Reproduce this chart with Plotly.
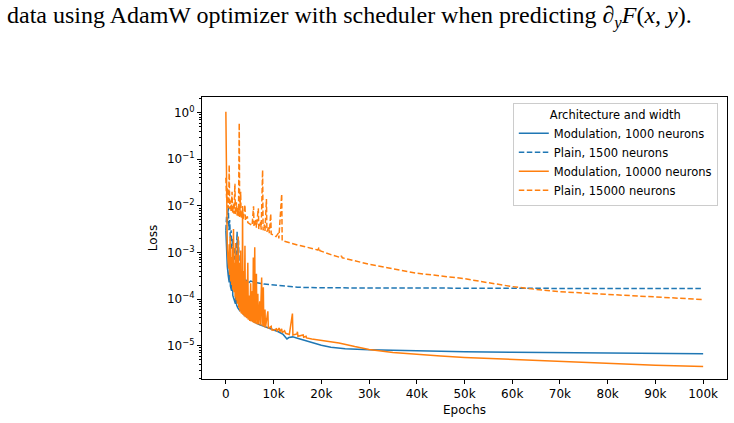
import plotly.graph_objects as go

# ---------------- data ----------------
mod1000_epochs = [0, 150, 300, 500, 700, 850, 950, 1200, 1350, 1450, 1700, 2000, 2150, 2250, 2500, 3000, 3400, 3500,
                  4000, 5000, 6000, 7000, 8000, 9000, 10000, 11000, 12000, 12800, 13200, 14000, 15000, 16000, 18000,
                  20000, 22000, 25000, 30000, 40000, 50000, 60000, 70000, 80000, 90000, 100000]
mod1000_loss = [3e-3, 9e-4, 5e-4, 3.2e-4, 2.3e-4, 8e-4, 1.9e-4, 1.5e-4, 5e-4, 1.2e-4, 1e-4, 8e-5, 2.5e-4, 7.5e-5, 6.5e-5,
                5.5e-5, 1.0e-4, 5e-5, 4.4e-5, 3.7e-5, 3.2e-5, 2.85e-5, 2.6e-5, 2.4e-5, 2.2e-5, 2.0e-5, 1.75e-5, 1.4e-5,
                1.5e-5, 1.55e-5, 1.45e-5, 1.35e-5, 1.17e-5, 1.03e-5, 9.3e-6, 8.6e-6, 8.2e-6, 7.7e-6, 7.45e-6, 7.25e-6,
                7.1e-6, 6.95e-6, 6.8e-6, 6.7e-6]

plain1500_epochs = [0, 150, 300, 500, 650, 800, 950, 1100, 1250, 1400, 1550, 1700, 1850, 2000, 2150, 2350, 2500, 2650,
                    2800, 3000, 3300, 3700, 4200, 4700, 4900, 5200, 6000, 8000, 10000, 12000, 15000, 20000, 30000,
                    50000, 70000, 100000]
plain1500_loss = [3e-3, 6e-3, 4e-3, 1e-2, 3e-3, 5e-3, 1.8e-3, 3e-3, 1.2e-3, 2e-3, 9e-4, 1.3e-3, 7e-4, 9e-4, 6e-4,
                  2.8e-3, 5.5e-4, 1.8e-3, 4.5e-4, 3.6e-4, 3e-4, 2.7e-4, 2.5e-4, 2.6e-4, 2.3e-4, 2.45e-4, 2.3e-4,
                  2.1e-4, 2.0e-4, 1.9e-4, 1.8e-4, 1.75e-4, 1.73e-4, 1.71e-4, 1.7e-4, 1.69e-4]

mod10000_epochs = [0, 60, 120, 200, 300, 400, 500, 600, 700, 780, 900, 1000, 1150, 1250, 1350, 1450, 1600, 1700, 1850,
                   1950, 2050, 2150, 2300, 2400, 2600, 2700, 2850, 2950, 3100, 3200, 3350, 3420, 3500, 3580, 3750,
                   3850, 4000, 4100, 4300, 4400, 4600, 4700, 4900, 5000, 5200, 5300, 5550, 5650, 5750, 5850, 6000,
                   6050, 6150, 6400, 6500, 6700, 6800, 7100, 7200, 7500, 7600, 7850, 7950, 8200, 8300, 8800, 8900,
                   9500, 9600, 10000, 10600, 10700, 11200, 11300, 11700, 11800, 12300, 12500, 13300, 13950, 14050,
                   14900, 15000, 15100, 16200, 16300, 16800, 16900, 18000, 20000, 23700, 27000, 30000, 35000, 40000,
                   45000, 50000, 60000, 70000, 80000, 90000, 100000]
mod10000_loss = [1.05, 0.15, 1.5e-2, 3e-3, 1.2e-3, 8e-4, 6e-4, 4.5e-4, 1.5e-3, 3.3e-4, 2.2e-3, 2.4e-4, 8e-4, 2e-4,
                 1.3e-3, 1.6e-4, 3.2e-3, 1.4e-4, 6e-4, 1.1e-4, 1.6e-3, 9.5e-5, 9e-4, 8e-5, 2.2e-3, 6.5e-5, 6e-4,
                 5.5e-5, 1.1e-3, 5e-5, 3e-4, 4.8e-5, 1.0e-2, 4.6e-5, 4e-4, 4.3e-5, 1.4e-3, 4.1e-5, 2.5e-4, 3.9e-5,
                 6e-4, 3.6e-5, 1.2e-4, 3.4e-5, 2.2e-4, 3.3e-5, 1.5e-4, 3.2e-5, 7.8e-4, 3.1e-5, 2.2e-4, 1.3e-3, 3e-5,
                 3.5e-4, 2.9e-5, 1.3e-4, 2.85e-5, 9e-5, 2.75e-5, 2.9e-4, 2.65e-5, 1.8e-4, 2.55e-5, 6e-5, 2.45e-5,
                 5.5e-5, 2.35e-5, 2.6e-5, 2.2e-5, 2.15e-5, 2.3e-5, 2.05e-5, 2.4e-5, 2e-5, 2.3e-5, 1.9e-5, 2.1e-5,
                 1.85e-5, 1.75e-5, 4.9e-5, 1.7e-5, 1.8e-5, 2e-5, 1.6e-5, 1.7e-5, 1.52e-5, 1.6e-5, 1.47e-5, 1.4e-5,
                 1.3e-5, 1.15e-5, 9.6e-6, 8.3e-6, 7.2e-6, 6.5e-6, 6.0e-6, 5.6e-6, 5.1e-6, 4.6e-6, 4.2e-6, 3.8e-6,
                 3.6e-6]

plain15000_epochs = [0, 150, 300, 450, 600, 700, 800, 1000, 1100, 1300, 1400, 1600, 1700, 1900, 2000, 2200, 2350,
                     2550, 2650, 2800, 2900, 3100, 3200, 3500, 3600, 4000, 4100, 4500, 4600, 5000, 5500, 5800, 5900,
                     6300, 6400, 6800, 6900, 7300, 7400, 7700, 7800, 8100, 8200, 8500, 8600, 9000, 9100, 9400, 9500,
                     10500, 11000, 11100, 11700, 11800, 13000, 15000, 17000, 19300, 19500, 19700, 22000, 24000,
                     24200, 24400, 30000, 35000, 40000, 45000, 50000, 55000, 60000, 65000, 70000, 75000, 80000,
                     85000, 90000, 95000, 100000]
plain15000_loss = [4e-2, 1.5e-2, 2.5e-2, 9e-3, 1.2e-2, 7.6e-2, 8.5e-3, 1.3e-2, 7.5e-3, 2e-2, 7e-3, 1.1e-2, 6.8e-3,
                   3e-2, 6.5e-3, 1.2e-2, 6.2e-3, 9e-3, 6e-3, 0.6, 5.8e-3, 2e-2, 5.5e-3, 8e-3, 5.2e-3, 1.05e-2, 4.8e-3,
                   6e-3, 4.4e-3, 4.1e-3, 3.8e-3, 9.8e-3, 3.6e-3, 5e-3, 3.4e-3, 8.9e-3, 3.2e-3, 4.5e-3, 3.1e-3,
                   5.9e-2, 3e-3, 4e-3, 2.9e-3, 1.4e-2, 2.8e-3, 3.5e-3, 2.6e-3, 6.8e-3, 2.5e-3, 2.2e-3, 2.6e-3, 2.0e-3,
                   1.8e-2, 1.8e-3, 1.65e-3, 1.45e-3, 1.3e-3, 1.13e-3, 1.3e-3, 1.1e-3, 9e-4, 7.8e-4, 8.5e-4, 7.7e-4,
                   5.6e-4, 4.5e-4, 3.6e-4, 3.15e-4, 2.75e-4, 2.25e-4, 1.86e-4, 1.62e-4, 1.45e-4, 1.35e-4, 1.26e-4,
                   1.17e-4, 1.1e-4, 1.02e-4, 9.8e-5]

x_tick_vals = [0, 10000, 20000, 30000, 40000, 50000, 60000, 70000, 80000, 90000, 100000]
x_tick_text = ["0", "10k", "20k", "30k", "40k", "50k", "60k", "70k", "80k", "90k", "100k"]
y_tick_vals = [1, 1e-1, 1e-2, 1e-3, 1e-4, 1e-5]
y_tick_text = ["10<sup>0</sup>", "10<sup>\u22121</sup>", "10<sup>\u22122</sup>", "10<sup>\u22123</sup>",
               "10<sup>\u22124</sup>", "10<sup>\u22125</sup>"]

BLUE = "#1f77b4"
ORANGE = "#ff7f0e"
FONT = "DejaVu Sans"
FS = 12
LFS = 11.5

fig = go.Figure()
series = [
    ("Modulation, 1000 neurons", mod1000_epochs, mod1000_loss, BLUE, "solid"),
    ("Plain, 1500 neurons", plain1500_epochs, plain1500_loss, BLUE, "5.5px,2.5px"),
    ("Modulation, 10000 neurons", mod10000_epochs, mod10000_loss, ORANGE, "solid"),
    ("Plain, 15000 neurons", plain15000_epochs, plain15000_loss, ORANGE, "5.5px,2.5px"),
]
for name, xs, ys, col, dash in series:
    fig.add_trace(go.Scatter(x=xs, y=ys, mode="lines", name=name,
                             line=dict(color=col, width=1.5, dash=dash)))

fig.update_layout(
    width=734, height=423,
    margin=dict(l=202, r=7, t=97, b=44),
    paper_bgcolor="white", plot_bgcolor="white",
    font=dict(family=FONT, size=FS, color="black"),
    showlegend=True,
    legend=dict(
        x=0.592, y=0.979, xanchor="left", yanchor="top",
        bgcolor="rgba(255,255,255,0.8)", bordercolor="#cccccc", borderwidth=1,
        font=dict(family=FONT, size=LFS, color="black"),
        title=dict(text="Architecture and width", side="top center",
                   font=dict(family=FONT, size=LFS, color="black")),
        itemwidth=30, tracegroupgap=0,
    ),
    annotations=[
        dict(text="data using AdamW optimizer with scheduler when predicting "
                  "\u2202<sub><i>y</i></sub><i>F</i>(<i>x, y</i>).",
             xref="paper", yref="paper", x=(5 - 202) / 525, y=1 + (97 - 17) / 282,
             xanchor="left", yanchor="middle", showarrow=False,
             font=dict(family="Liberation Serif", size=24, color="black")),
    ],
)

fig.update_xaxes(
    range=[-5000, 105000], tickvals=x_tick_vals, ticktext=x_tick_text,
    showline=True, linecolor="black", linewidth=1, mirror=True,
    ticks="outside", ticklen=4, tickwidth=1, tickcolor="black",
    showgrid=False, zeroline=False, tickfont=dict(size=FS),
    title=dict(text="Epochs", font=dict(family=FONT, size=FS), standoff=5),
)
fig.update_yaxes(
    type="log", range=[-5.713, 0.336], tickvals=y_tick_vals, ticktext=y_tick_text,
    showline=True, linecolor="black", linewidth=1, mirror=True,
    ticks="outside", ticklen=4, tickwidth=1, tickcolor="black",
    minor=dict(ticks="outside", ticklen=2, tickwidth=0.8, tickcolor="black", dtick="D1", showgrid=False),
    showgrid=False, zeroline=False, tickfont=dict(size=FS),
    title=dict(text="Loss", font=dict(family=FONT, size=FS), standoff=6),
)

fig.write_html("out.html")
